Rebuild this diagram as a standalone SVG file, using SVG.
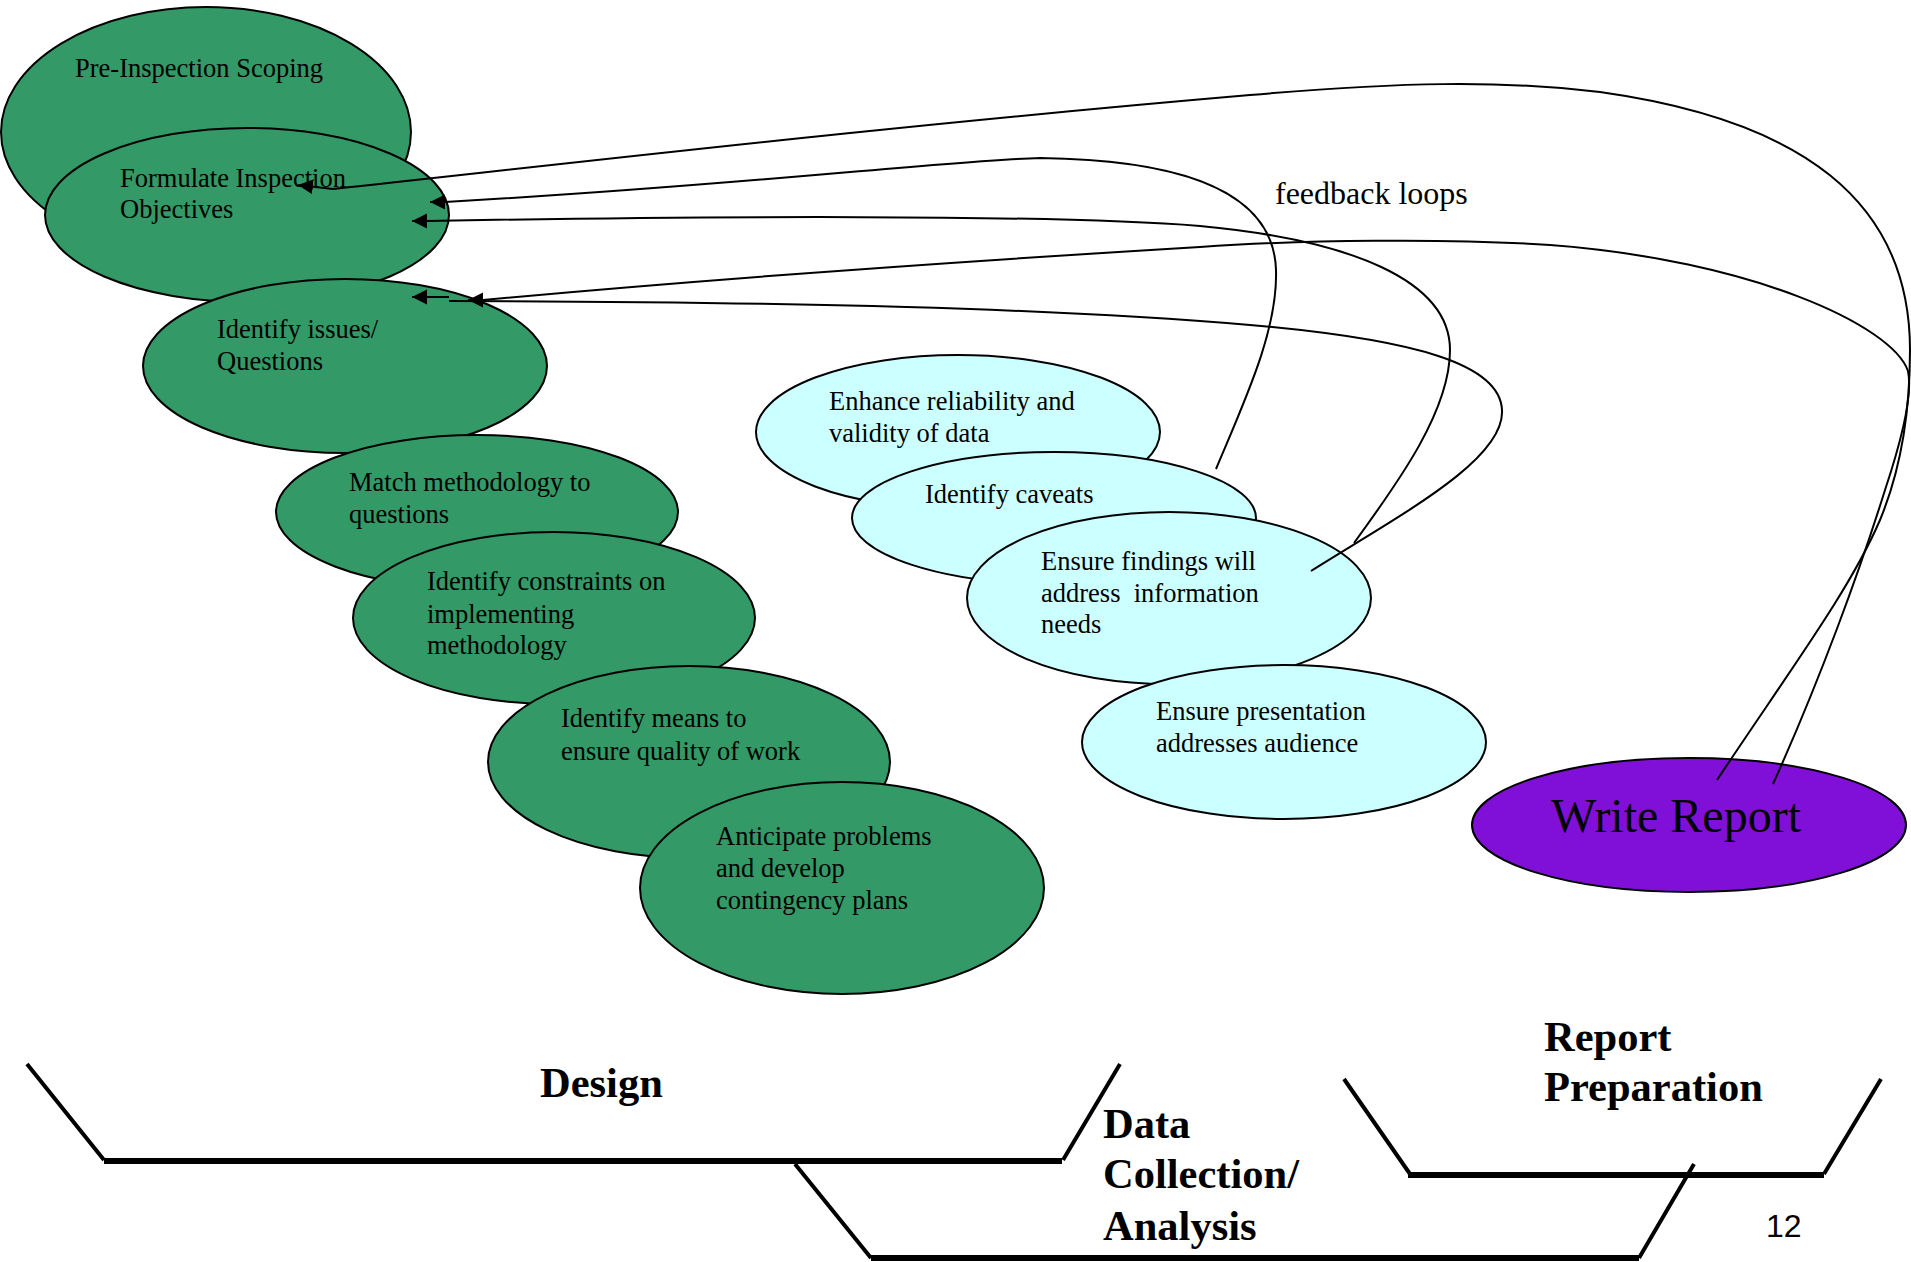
<svg xmlns="http://www.w3.org/2000/svg" width="1911" height="1262" viewBox="0 0 1911 1262">
<style>
  .g{fill:#339966;stroke:#000;stroke-width:2}
  .c{fill:#CCFFFF;stroke:#000;stroke-width:2}
  .p{fill:#8010D8;stroke:#000;stroke-width:2}
  .t{font-family:"Liberation Serif","Times New Roman",serif;font-size:26.5px;fill:#000}
  .big{font-family:"Liberation Serif","Times New Roman",serif;font-size:48px;fill:#000}
  .fb{font-family:"Liberation Serif","Times New Roman",serif;font-size:32px;fill:#000}
  .lbl{font-family:"Liberation Serif","Times New Roman",serif;font-size:42.5px;font-weight:bold;fill:#000}
  .num{font-family:"Liberation Sans",Arial,sans-serif;font-size:32px;fill:#000}
  .conn path{fill:none;stroke:#000;stroke-width:2}
  .side{stroke:#000;stroke-width:4;fill:none}
  .base{stroke:#000;stroke-width:6;fill:none}
</style>
<defs>
  <marker id="ah" markerUnits="userSpaceOnUse" markerWidth="16" markerHeight="16" refX="15" refY="7.5" orient="auto">
    <path d="M0,0 L15,7.5 L0,15 z" fill="#000"/>
  </marker>
</defs>

<g id="n-preinspection"><ellipse class="g" cx="206" cy="132" rx="205" ry="125"/><text class="t" x="75" y="77">Pre-Inspection Scoping</text></g>
<g id="n-formulate"><ellipse class="g" cx="247" cy="215" rx="202" ry="87"/><text class="t" x="120" y="187">Formulate Inspection<tspan x="120" y="218">Objectives</tspan></text></g>
<g id="n-issues"><ellipse class="g" cx="345" cy="366" rx="202" ry="87"/><text class="t" x="217" y="338">Identify issues/<tspan x="217" y="370">Questions</tspan></text></g>
<g id="n-match"><ellipse class="g" cx="477" cy="512" rx="201" ry="77"/><text class="t" x="349" y="491">Match methodology to<tspan x="349" y="523">questions</tspan></text></g>
<g id="n-constraints"><ellipse class="g" cx="554" cy="618" rx="201" ry="86"/><text class="t" x="427" y="590">Identify constraints on<tspan x="427" y="623">implementing</tspan><tspan x="427" y="654">methodology</tspan></text></g>
<g id="n-means"><ellipse class="g" cx="689" cy="762" rx="201" ry="96"/><text class="t" x="561" y="727">Identify means to<tspan x="561" y="760">ensure quality of work</tspan></text></g>
<g id="n-anticipate"><ellipse class="g" cx="842" cy="888" rx="202" ry="106"/><text class="t" x="716" y="845">Anticipate problems<tspan x="716" y="877">and develop</tspan><tspan x="716" y="909">contingency plans</tspan></text></g>

<g id="n-enhance"><ellipse class="c" cx="958" cy="432" rx="202" ry="77"/><text class="t" x="829" y="410">Enhance reliability and<tspan x="829" y="442">validity of data</tspan></text></g>
<g id="n-caveats"><ellipse class="c" cx="1054" cy="518" rx="202" ry="66"/><text class="t" x="925" y="503">Identify caveats</text></g>
<g id="n-findings"><ellipse class="c" cx="1169" cy="598" rx="202" ry="86"/><text class="t" x="1041" y="570" xml:space="preserve">Ensure findings will<tspan x="1041" y="602">address  information</tspan><tspan x="1041" y="633">needs</tspan></text></g>
<g id="n-presentation"><ellipse class="c" cx="1284" cy="742" rx="202" ry="77"/><text class="t" x="1156" y="720">Ensure presentation<tspan x="1156" y="752">addresses audience</tspan></text></g>
<g id="n-write"><ellipse class="p" cx="1689" cy="825" rx="217" ry="67"/><text class="big" x="1551" y="832">Write Report</text></g>

<g id="connectors" class="conn">
  <path marker-end="url(#ah)" d="M1717,780 C1790,670 1850,590 1880,520 C1905,460 1910,400 1910,350 C1910,200 1800,120 1600,92 C1500,80 1400,82 1250,95 C900,125 600,160 333,189 L298,185"/>
  <path marker-end="url(#ah)" d="M1773,784 C1820,680 1860,570 1885,490 C1905,430 1912,390 1908,371 C1892,325 1750,260 1550,245 C1450,238 1300,240 1200,247 C950,262 700,280 483,300 L468,300"/>
  <path marker-end="url(#ah)" d="M1216,469 C1245,400 1278,330 1276,270 C1274,200 1200,160 1040,158 C950,160 750,185 445,202 L430,202"/>
  <path marker-end="url(#ah)" d="M1354,543 C1400,480 1450,410 1450,350 C1450,280 1350,240 1200,226 C1050,214 700,216 427,221 L412,221"/>
  <path marker-end="url(#ah)" d="M1311,571 C1400,515 1505,460 1502,410 C1500,365 1420,340 1250,325 C1050,308 800,302 449,301 M449,297 L412,297"/>
</g>

<text class="fb" x="1275" y="204">feedback loops</text>

<g id="phase-design">
  <path class="side" d="M27,1064 L104,1160 M1063,1160 L1120,1064"/>
  <path class="base" d="M104,1161 L1062,1161"/>
  <text class="lbl" x="540" y="1097">Design</text>
</g>
<g id="phase-data">
  <path class="side" d="M795,1164 L871,1258 M1639,1258 L1694,1164"/>
  <path class="base" d="M871,1258 L1639,1258"/>
  <text class="lbl" x="1103" y="1138">Data<tspan x="1103" y="1188">Collection/</tspan><tspan x="1103" y="1240">Analysis</tspan></text>
</g>
<g id="phase-report">
  <path class="side" d="M1344,1079 L1410,1174 M1824,1174 L1881,1079"/>
  <path class="base" d="M1408,1175 L1824,1175"/>
  <text class="lbl" x="1544" y="1051">Report<tspan x="1544" y="1101">Preparation</tspan></text>
</g>
<text class="num" x="1766" y="1237">12</text>
</svg>
